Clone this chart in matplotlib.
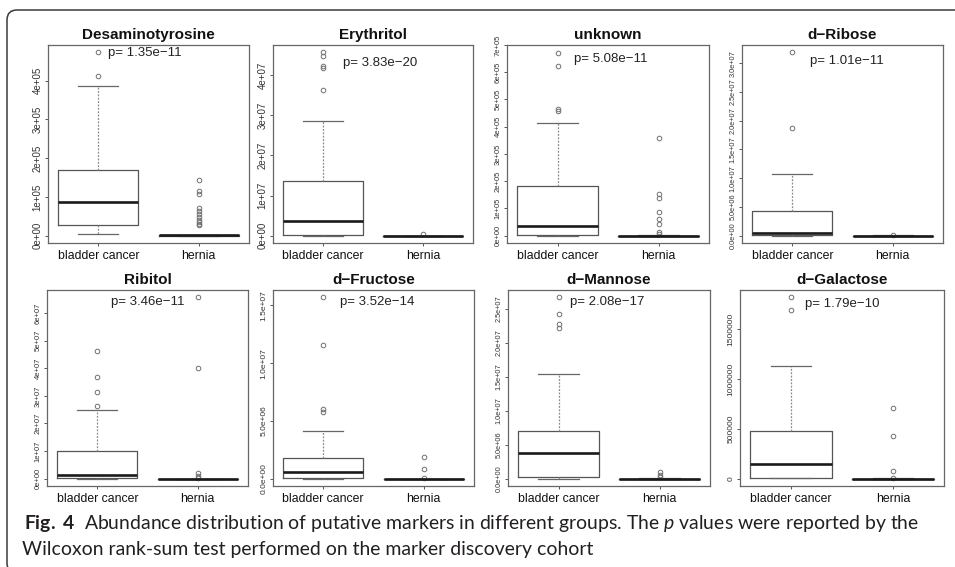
import matplotlib
matplotlib.use("Agg")
import matplotlib.pyplot as plt
from matplotlib.patches import FancyBboxPatch
from matplotlib.transforms import IdentityTransform

plt.rcParams['font.family'] = ['Liberation Sans', 'DejaVu Sans']
plt.rcParams['mathtext.fontset'] = 'custom'
plt.rcParams['mathtext.rm'] = 'Lato'
plt.rcParams['mathtext.it'] = 'Lato:italic'
plt.rcParams['mathtext.bf'] = 'Lato:bold'

# ---- data ----
names = ["Desaminotyrosine", "Erythritol", "unknown", "d\u2212Ribose",
         "Ribitol", "d\u2212Fructose", "d\u2212Mannose", "d\u2212Galactose"]
p_text = ["1.35e\u221211", "3.83e\u221220", "5.08e\u221211", "1.01e\u221211",
          "3.46e\u221211", "3.52e\u221214", "2.08e\u221217", "1.79e\u221210"]
groups = ["bladder cancer", "hernia"]

# whislo, q1, median, q3, whishi
bladder_box = [
    [0.04e5, 0.27e5, 0.88e5, 1.70e5, 3.86e5],
    [0.0, 0.02e7, 0.365e7, 1.37e7, 2.85e7],
    [0.0, 0.04e5, 0.37e5, 1.83e5, 4.15e5],
    [0.0, 0.15e6, 0.5e6, 4.3e6, 10.8e6],
    [0.0, 0.02e7, 0.12e7, 1.0e7, 2.48e7],
    [0.0, 0.05e6, 0.6e6, 1.8e6, 4.14e6],
    [0.0, 0.3e6, 3.8e6, 7.0e6, 15.4e6],
    [3000, 5000, 153000, 479000, 1131000],
]
bladder_out = [
    [4.11e5, 4.73e5],
    [3.64e7, 4.17e7, 4.24e7, 4.47e7, 4.57e7],
    [4.59e5, 4.65e5, 6.22e5, 6.71e5],
    [18.7e6, 31.9e6],
    [2.62e7, 3.13e7, 3.68e7, 4.61e7],
    [5.75e6, 6.06e6, 11.6e6, 15.7e6],
    [22.2e6, 22.7e6, 24.3e6, 26.7e6],
    [1697000, 1823000],
]
hernia_box = [
    [0.0, 0.002e5, 0.005e5, 0.01e5, 0.02e5],
    [0.0, 0.0, 0.0005e7, 0.001e7, 0.002e7],
    [0.0, 0.001e5, 0.003e5, 0.006e5, 0.01e5],
    [0.0, 0.0, 0.01e6, 0.02e6, 0.05e6],
    [0.0, 0.0, 0.001e7, 0.002e7, 0.005e7],
    [0.0, 0.0, 0.005e6, 0.01e6, 0.02e6],
    [0.0, 0.0, 0.01e6, 0.02e6, 0.05e6],
    [0, 500, 1000, 2000, 4000],
]
hernia_out = [
    [0.27e5, 0.30e5, 0.35e5, 0.40e5, 0.47e5, 0.55e5, 0.63e5, 0.71e5, 1.07e5, 1.16e5, 1.44e5],
    [0.04e7],
    [0.07e5, 0.13e5, 0.44e5, 0.62e5, 0.88e5, 1.38e5, 1.54e5, 3.57e5],
    [0.1e6],
    [0.03e7, 0.1e7, 0.2e7, 4.01e7, 6.57e7],
    [0.05e6, 0.8e6, 1.9e6],
    [0.3e6, 0.6e6, 1.0e6],
    [10000, 77000, 429000, 715000],
]
yticks = [
    [0, 1e5, 2e5, 3e5, 4e5],
    [0, 1e7, 2e7, 3e7, 4e7],
    [0, 1e5, 2e5, 3e5, 4e5, 5e5, 6e5, 7e5],
    [0, 5e6, 1e7, 1.5e7, 2e7, 2.5e7, 3e7],
    [0, 1e7, 2e7, 3e7, 4e7, 5e7, 6e7],
    [0, 5e6, 1e7, 1.5e7],
    [0, 5e6, 1e7, 1.5e7, 2e7, 2.5e7],
    [0, 500000, 1000000, 1500000],
]
yfmt = ['%.0e', '%.0e', '%.0e', '%.1e', '%.0e', '%.1e', '%.1e', '%d']

caption1 = (r"$\mathbf{Fig.\ 4}$  Abundance distribution of putative markers in different groups. "
            r"The $\mathit{p}$ values were reported by the")
caption2 = "Wilcoxon rank-sum test performed on the marker discovery cohort"

# ---- layout (pixels: left, top, right, bottom) ----
W, H = 955, 567
axes_px = [(48, 45, 249, 243), (273, 45, 473, 243), (507, 45, 709, 243), (742, 45, 943, 243),
           (47, 290, 248, 486), (273, 290, 474, 486), (508, 290, 710, 486), (740, 290, 944, 486)]
p_pos = [(0.48, 0.96), (0.535, 0.91), (0.515, 0.93), (0.52, 0.92),
         (0.50, 0.94), (0.52, 0.94), (0.49, 0.94), (0.50, 0.93)]
ytick_fs = [7, 7, 5.5, 5.3, 5.5, 6, 5.3, 6]

fig = plt.figure(figsize=(W / 100, H / 100), dpi=100)

frame = FancyBboxPatch((7, -6), 975, 563, boxstyle="round,pad=0,rounding_size=10",
                       transform=IdentityTransform(), fill=False, ec='#3a3a3a', lw=1.1)
fig.patches.append(frame)

for i in range(8):
    l, t, r, b = axes_px[i]
    ax = fig.add_axes([l / W, 1 - b / H, (r - l) / W, (b - t) / H])
    stats = []
    for box, out, lab in [(bladder_box[i], bladder_out[i], groups[0]),
                          (hernia_box[i], hernia_out[i], groups[1])]:
        stats.append(dict(whislo=box[0], q1=box[1], med=box[2], q3=box[3],
                          whishi=box[4], fliers=out, label=lab))
    ax.bxp(stats, positions=[1, 2], widths=0.8, capwidths=0.4,
           boxprops=dict(color='#555555', lw=0.9),
           medianprops=dict(color='#1a1a1a', lw=1.9),
           whiskerprops=dict(color='#8a8a8a', lw=0.9, linestyle=(0, (1.5, 1.2))),
           capprops=dict(color='#666666', lw=0.9),
           flierprops=dict(marker='o', mfc='none', mec='#707070', ms=3.3, mew=0.7))
    ax.set_xlim(0.5, 2.5)
    ax.margins(y=0.04)
    ax.autoscale_view()
    ax.set_yticks(yticks[i])
    ax.set_yticklabels([yfmt[i] % v for v in yticks[i]], rotation=90, va='center',
                       fontsize=ytick_fs[i], color='#333333')
    ax.set_xticks([1, 2])
    ax.set_xticklabels(groups, fontsize=8.8, color='#111111')
    ax.tick_params(axis='both', direction='out', length=2.5, width=0.7, color='#555555')
    ax.tick_params(axis='y', pad=1.5)
    ax.tick_params(axis='x', pad=2.5)
    for s in ax.spines.values():
        s.set_color('#666666')
        s.set_linewidth(0.9)
    ax.set_title(names[i], fontsize=11, fontweight='bold', pad=4, color='#111111')
    ax.text(p_pos[i][0], p_pos[i][1], "p= " + p_text[i], transform=ax.transAxes,
            ha='center', va='center', fontsize=9.5, color='#222222')

c1 = fig.text(24 / W, 1 - 523 / H, caption1, family='Lato', fontsize=13,
              va='center', ha='left', color='#231f20')
c2 = fig.text(22 / W, 1 - 550 / H, caption2, family='Lato', fontsize=13,
              va='center', ha='left', color='#231f20')
# fit first caption line to its width in the reference
fig.canvas.draw()
w = c1.get_window_extent(fig.canvas.get_renderer()).width
fs = 13 * 891 / w
c1.set_fontsize(fs)
c2.set_fontsize(fs)

fig.savefig("out.png", dpi=100)
